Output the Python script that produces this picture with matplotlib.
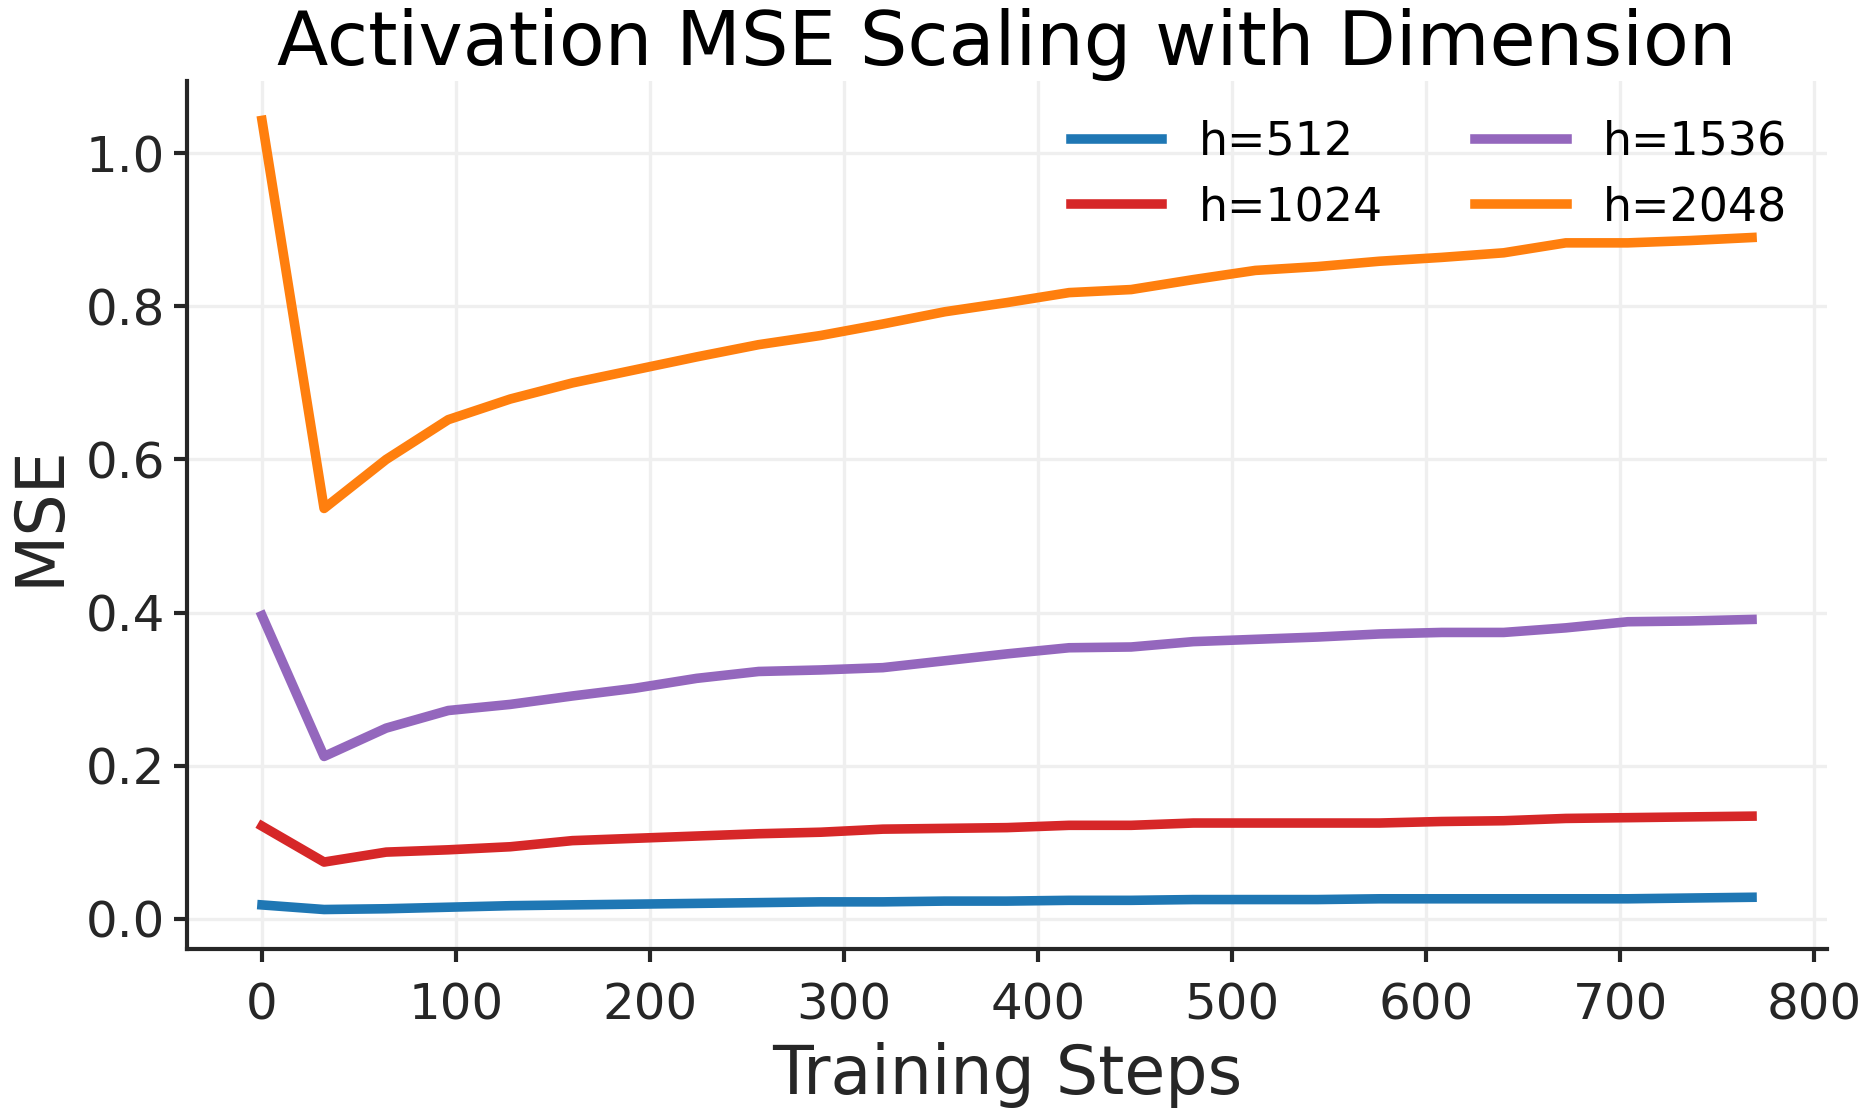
import numpy as np
import matplotlib
matplotlib.use("Agg")
import matplotlib.pyplot as plt

steps = [0, 32, 64, 96, 128, 160, 192, 224, 256, 288, 320, 352, 384,
         416, 448, 480, 512, 544, 576, 608, 640, 672, 704, 736, 768]

mse_512 = [0.018, 0.012, 0.013, 0.015, 0.017, 0.018, 0.019, 0.020, 0.021,
           0.022, 0.022, 0.023, 0.023, 0.024, 0.024, 0.025, 0.025, 0.025,
           0.026, 0.026, 0.026, 0.026, 0.026, 0.027, 0.028]
mse_1024 = [0.121, 0.074, 0.087, 0.090, 0.094, 0.102, 0.105, 0.108, 0.111,
            0.113, 0.117, 0.118, 0.119, 0.122, 0.122, 0.125, 0.125, 0.125,
            0.125, 0.127, 0.128, 0.131, 0.132, 0.133, 0.134]
mse_1536 = [0.396, 0.212, 0.249, 0.272, 0.280, 0.291, 0.301, 0.314, 0.323,
            0.325, 0.328, 0.337, 0.346, 0.354, 0.355, 0.362, 0.365, 0.368,
            0.372, 0.374, 0.374, 0.380, 0.388, 0.389, 0.391]
mse_2048 = [1.043, 0.536, 0.600, 0.652, 0.679, 0.700, 0.717, 0.734, 0.750,
            0.762, 0.777, 0.793, 0.805, 0.818, 0.822, 0.835, 0.847, 0.852,
            0.859, 0.864, 0.870, 0.883, 0.883, 0.886, 0.890]

series = [("h=512", mse_512, "#1f77b4"),
          ("h=1024", mse_1024, "#d62728"),
          ("h=1536", mse_1536, "#9467bd"),
          ("h=2048", mse_2048, "#ff7f0e")]

plt.rcParams['font.family'] = ['DejaVu Sans']
dark = "#262626"

fig, ax = plt.subplots(figsize=(6.2, 3.6967), dpi=300)
fig.subplots_adjust(left=0.1008, right=0.982, bottom=0.1443, top=0.927)

for label, vals, col in series:
    ax.plot(steps, vals, color=col, linewidth=2.3, label=label)

ax.set_title("Activation MSE Scaling with Dimension", fontsize=18, color="black", pad=-2.5)
ax.set_xlabel("Training Steps", fontsize=16, color=dark, labelpad=3)
ax.set_ylabel("MSE", fontsize=16, color=dark, labelpad=3)

ax.set_xticks([0, 100, 200, 300, 400, 500, 600, 700, 800])
ax.set_yticks([0.0, 0.2, 0.4, 0.6, 0.8, 1.0])
ax.tick_params(labelsize=12, colors=dark, length=3.2, width=1.0)
ax.tick_params(axis="x", pad=4.5)
ax.tick_params(axis="y", pad=2.2)
ax.grid(True, color="#efefef", linewidth=0.8)
ax.set_axisbelow(True)

for s in ["top", "right"]:
    ax.spines[s].set_visible(False)
for s in ["left", "bottom"]:
    ax.spines[s].set_color(dark)
    ax.spines[s].set_linewidth(1.0)

ax.legend(loc="upper right", ncol=2, frameon=False, fontsize=11,
          handlelength=2.0, columnspacing=2.0, borderaxespad=0.45,
          labelspacing=0.45)

fig.savefig("out.png", dpi=300)
